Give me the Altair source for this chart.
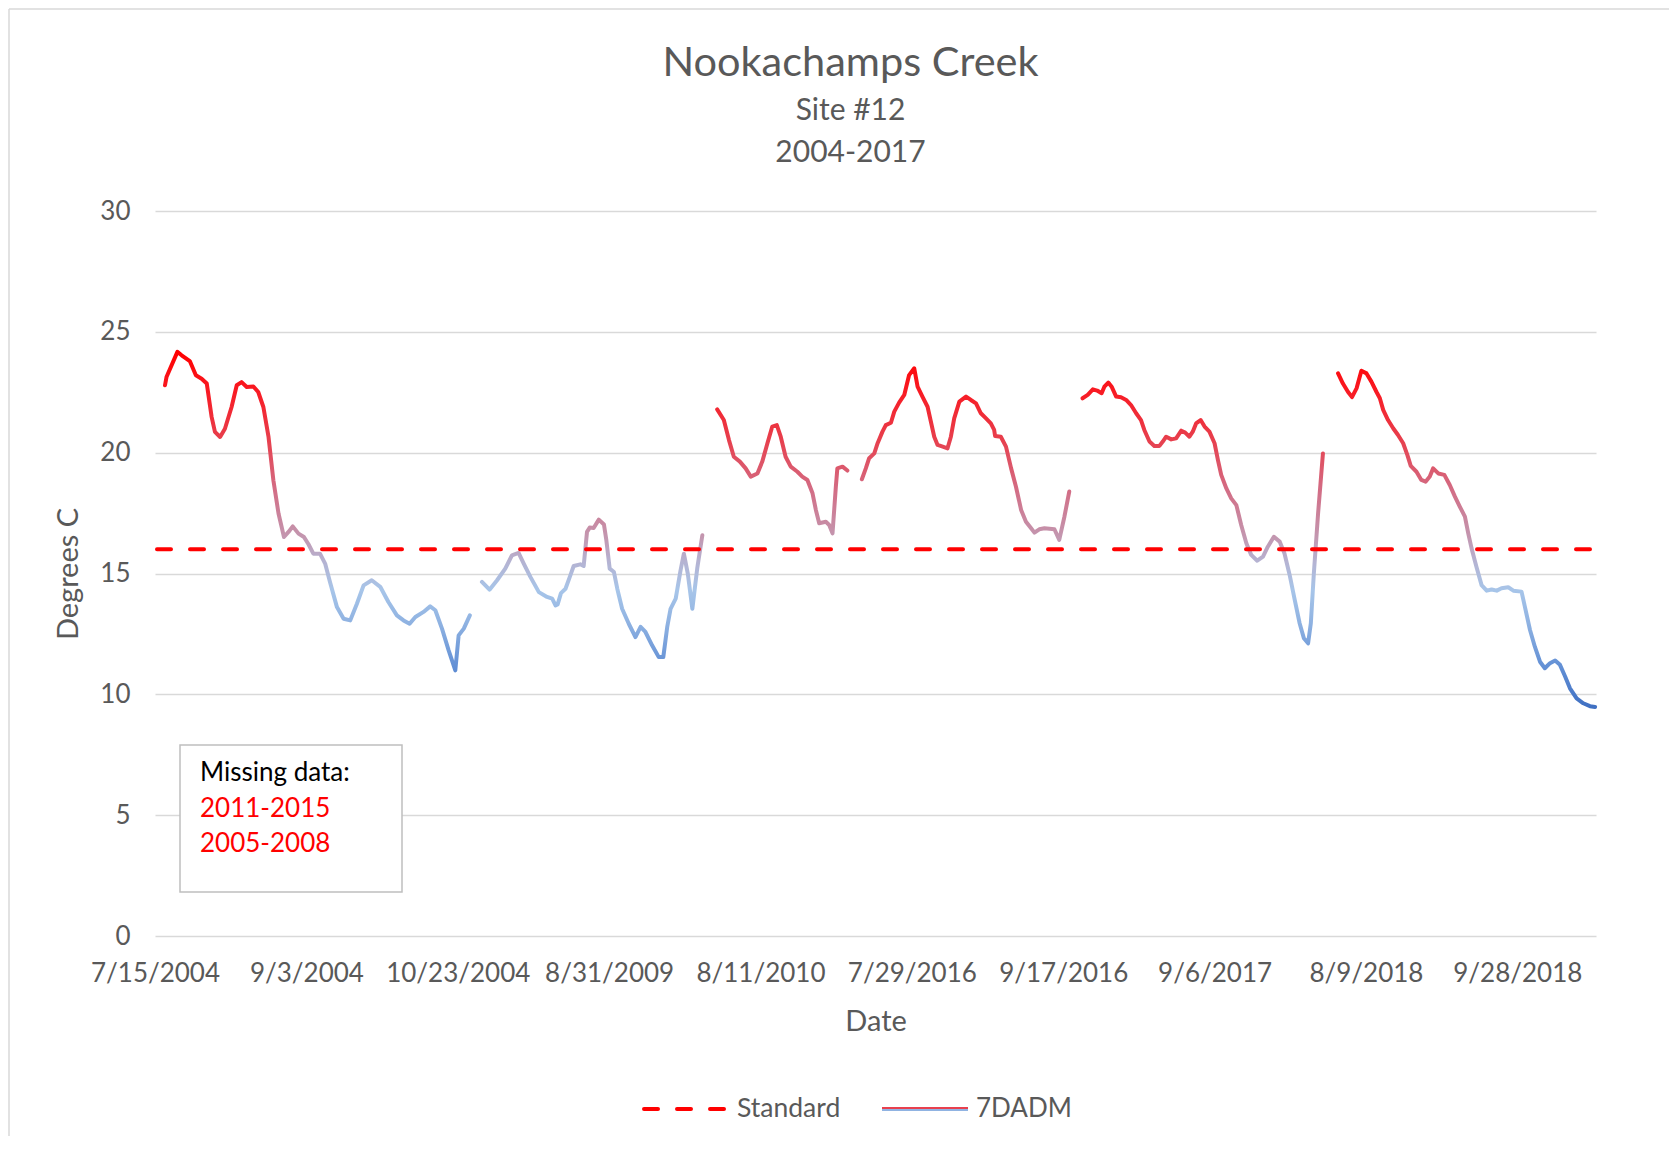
import altair as alt
import pandas as pd

# ---------------- data ----------------
TITLE = "Nookachamps Creek"
SUBTITLE = ["Site #12", "2004-2017"]
DATE_LABELS = ["7/15/2004", "9/3/2004", "10/23/2004", "8/31/2009", "8/11/2010",
               "7/29/2016", "9/17/2016", "9/6/2017", "8/9/2018", "9/28/2018"]
LABEL_STEP = 50
N_CATEGORIES = 477
STANDARD = 16
NOTE_LINES = ["Missing data:", "2011-2015", "2005-2008"]

# (category index, 7DADM degrees C) vertices of each recorded stretch
SEG_1 = [(3.3, 22.79), (3.8, 23.13), (7.4, 24.17), (8.8, 24.03), (11.5, 23.79), (13.5, 23.2),
         (15.4, 23.06), (17.1, 22.86), (18.7, 21.48), (19.8, 20.86), (21.5, 20.65), (23.1, 20.99),
         (25.3, 21.89), (27.0, 22.79), (28.6, 22.92), (30.3, 22.72), (32.5, 22.74), (34.1, 22.51),
         (35.8, 21.89), (37.5, 20.65), (39.1, 18.86), (40.8, 17.48), (42.6, 16.51), (44.1, 16.72),
         (45.5, 16.95), (47.4, 16.65), (49.2, 16.51), (50.7, 16.21), (52.3, 15.82), (54.5, 15.82),
         (56.2, 15.41), (57.8, 14.65), (60.1, 13.61), (62.3, 13.13), (64.5, 13.06), (66.7, 13.75),
         (68.9, 14.51), (71.6, 14.72), (74.4, 14.45), (77.1, 13.82), (79.9, 13.27), (82.1, 13.06),
         (84.1, 12.92), (86.0, 13.2), (88.7, 13.41), (90.9, 13.64), (92.6, 13.48), (94.8, 12.72),
         (97.0, 11.82), (99.2, 10.99), (100.3, 12.44), (102.0, 12.72), (104.0, 13.27)]
SEG_2 = [(108.0, 14.65), (110.5, 14.33), (113.0, 14.72), (115.7, 15.2), (117.9, 15.75), (120.1, 15.85),
         (121.8, 15.41), (124.0, 14.86), (126.8, 14.23), (129.5, 14.03), (131.2, 13.96), (132.3, 13.68),
         (133.0, 13.72), (134.1, 14.19), (135.6, 14.37), (137.2, 14.92), (138.3, 15.31), (140.5, 15.38),
         (141.6, 15.31), (142.7, 16.72), (143.6, 16.9), (144.9, 16.88), (146.6, 17.23), (148.3, 17.03),
         (149.1, 16.37), (150.2, 15.2), (151.6, 15.06), (152.7, 14.37), (154.3, 13.54), (156.5, 12.92),
         (158.7, 12.37), (160.4, 12.79), (162.0, 12.58), (164.2, 12.03), (166.4, 11.54), (167.9, 11.54),
         (169.2, 12.79), (170.3, 13.54), (172.0, 13.96), (173.6, 15.13), (174.7, 15.82), (176.0, 14.99),
         (177.5, 13.54), (179.1, 15.2), (180.8, 16.58)]
SEG_3 = [(185.7, 21.79), (187.9, 21.35), (189.6, 20.52), (191.2, 19.83), (193.2, 19.63), (195.1, 19.35),
         (196.8, 19.01), (199.0, 19.14), (200.6, 19.63), (202.3, 20.39), (203.9, 21.08), (205.4, 21.14),
         (206.7, 20.66), (208.3, 19.83), (210.0, 19.42), (212.2, 19.21), (213.8, 19.01), (215.5, 18.87),
         (217.2, 18.32), (218.3, 17.63), (219.4, 17.08), (221.6, 17.14), (222.7, 17.01), (223.8, 16.66),
         (224.9, 18.59), (225.4, 19.35), (227.1, 19.42), (228.7, 19.26)]
SEG_4 = [(233.5, 18.9), (234.8, 19.35), (235.9, 19.77), (237.6, 19.97), (238.7, 20.39), (240.3, 20.87),
         (241.4, 21.14), (243.1, 21.24), (244.2, 21.7), (245.8, 22.07), (247.5, 22.39), (249.1, 23.21),
         (250.8, 23.49), (251.9, 22.73), (253.5, 22.32), (255.2, 21.9), (256.3, 21.28), (257.4, 20.66),
         (258.5, 20.32), (260.2, 20.25), (261.8, 20.18), (262.9, 20.66), (264.0, 21.42), (265.7, 22.11),
         (267.9, 22.32), (269.5, 22.18), (271.2, 22.04), (272.8, 21.63), (274.5, 21.42), (276.1, 21.21),
         (277.2, 20.94), (277.5, 20.69), (279.4, 20.66), (281.1, 20.25), (282.8, 19.35), (284.4, 18.59),
         (286.1, 17.63), (287.7, 17.14), (289.4, 16.87), (290.5, 16.69), (292.1, 16.83), (293.8, 16.87),
         (297.1, 16.83), (298.7, 16.39), (300.4, 17.35), (302.0, 18.39)]
SEG_5 = [(306.4, 22.25), (308.1, 22.39), (309.8, 22.62), (311.2, 22.57), (312.7, 22.46), (313.6, 22.73),
         (314.9, 22.9), (316.0, 22.73), (317.5, 22.32), (319.1, 22.29), (320.8, 22.18), (322.4, 21.97),
         (324.1, 21.63), (325.7, 21.35), (326.8, 20.94), (328.5, 20.46), (330.1, 20.28), (331.8, 20.28),
         (332.9, 20.46), (334.0, 20.66), (335.7, 20.55), (337.3, 20.59), (339.0, 20.91), (340.3, 20.83),
         (341.7, 20.66), (342.8, 20.87), (343.9, 21.21), (345.4, 21.35), (346.7, 21.08), (348.3, 20.87),
         (350.0, 20.39), (351.1, 19.7), (352.2, 19.08), (353.9, 18.52), (355.5, 18.11), (357.2, 17.83),
         (358.8, 17.01), (360.5, 16.25), (362.1, 15.77), (364.1, 15.53), (366.0, 15.7), (367.6, 16.11),
         (369.6, 16.52), (371.5, 16.32), (373.1, 15.83), (374.8, 14.94), (376.5, 13.9), (378.1, 12.94),
         (379.5, 12.32), (380.9, 12.11), (381.8, 12.94), (382.8, 15.01), (384.2, 17.49), (385.8, 19.97)]
SEG_6 = [(390.8, 23.28), (392.4, 22.86), (394.1, 22.51), (395.4, 22.3), (396.9, 22.66), (398.5, 23.39),
         (400.2, 23.28), (401.8, 22.94), (403.5, 22.51), (404.6, 22.25), (405.7, 21.77), (407.3, 21.35),
         (409.0, 21.01), (410.6, 20.73), (412.3, 20.39), (413.7, 19.9), (414.8, 19.45), (416.7, 19.21),
         (418.3, 18.87), (419.7, 18.8), (421.1, 19.01), (422.2, 19.35), (423.9, 19.14), (425.9, 19.08),
         (427.7, 18.66), (429.4, 18.18), (431.0, 17.77), (432.7, 17.35), (433.8, 16.66), (434.9, 16.04),
         (436.5, 15.28), (438.2, 14.52), (439.9, 14.29), (441.5, 14.34), (443.2, 14.29), (444.8, 14.39),
         (447.0, 14.43), (448.7, 14.29), (451.4, 14.25), (452.5, 13.63), (454.2, 12.66), (455.8, 11.97),
         (457.5, 11.35), (459.1, 11.08), (460.8, 11.29), (462.5, 11.4), (464.1, 11.22), (465.8, 10.74),
         (467.4, 10.25), (469.6, 9.83), (471.8, 9.63), (474.0, 9.51), (475.7, 9.48)]
SEGMENTS = [SEG_1, SEG_2, SEG_3, SEG_4, SEG_5, SEG_6]

# ---------------- styles ----------------
FONT = "Lato"
GREY = "#595959"
GRID = "#D9D9D9"
GRAD_VALUES = [24.2, 22.5, 20.5, 18.5, 16.5, 15.5, 14.3, 13.0, 11.0, 9.4]
GRAD_COLORS = ["#FF0000", "#F81B24", "#E7404E", "#D36C84", "#C397B0", "#B5B3D2",
               "#A7C5E9", "#90B3E2", "#5F8DD4", "#4070C2"]

rows = []
for k, seg in enumerate(SEGMENTS):
    for i, v in seg:
        rows.append({"cat": i, "temp": v})
    if k < len(SEGMENTS) - 1:
        gap = (seg[-1][0] + SEGMENTS[k + 1][0][0]) / 2
        rows.append({"cat": gap, "temp": None})
df = pd.DataFrame(rows)

vals = [v for s in SEGMENTS for _, v in s]
vmax, vmin = max(vals), min(vals)
stops = []
for v, c in zip(GRAD_VALUES, GRAD_COLORS):
    off = min(1.0, max(0.0, (vmax - v) / (vmax - vmin)))
    stops.append(alt.GradientStop(color=c, offset=off))

W, H = 1441, 725
FRAME_TOP = -202
x_scale = alt.Scale(domain=[0, N_CATEGORIES - 1], nice=False, zero=False)
y_scale = alt.Scale(domain=[0, 30], nice=False, zero=False)

label_expr = "[" + ",".join("'%s'" % d for d in DATE_LABELS) + "][round(datum.value/%d)]" % LABEL_STEP

x_axis = alt.Axis(values=[i * LABEL_STEP for i in range(len(DATE_LABELS))], labelExpr=label_expr,
                  title="Date", domain=False, ticks=False, grid=False, labelFont=FONT,
                  labelFontSize=26, labelColor=GREY, labelPadding=24, labelOverlap=False,
                  labelFlush=False, titleFont=FONT, titleFontSize=29, titleColor=GREY,
                  titleFontWeight="normal", titleX=W / 2, titleY=85, titleBaseline="middle",
                  titleAlign="center")
y_axis = alt.Axis(values=[0, 5, 10, 15, 20, 25, 30], title="Degrees C", domain=False, ticks=False,
                  grid=True, gridColor=GRID, gridWidth=1.6, labelFont=FONT, labelFontSize=26,
                  labelColor=GREY, labelPadding=25, titleFont=FONT, titleFontSize=29,
                  titleColor=GREY, titleFontWeight="normal", titleAngle=270, titleX=-87,
                  titleY=H / 2, titleAlign="center", titleBaseline="middle")

base = alt.Chart(df)

line = base.mark_line(
    strokeWidth=4, strokeJoin="round", strokeCap="round",
    invalid="break-paths-show-domains",
    color=alt.Gradient(gradient="linear", stops=stops, x1=0, x2=0, y1=0, y2=1),
).encode(
    x=alt.X("cat:Q", scale=x_scale, axis=x_axis),
    y=alt.Y("temp:Q", scale=y_scale, axis=y_axis),
)

std = alt.Chart(pd.DataFrame({"std": [STANDARD]})).mark_rule(
    color="#FF0000", strokeWidth=4, strokeDash=[14, 19], strokeCap="round"
).encode(y=alt.Y("std:Q", scale=y_scale), x=alt.value(2), x2=alt.value(W))

layers = [line, std]

# note box
box = alt.Chart(pd.DataFrame({"a": [0]})).mark_rect(
    fill="white", stroke="#BFBFBF", strokeWidth=1.5
).encode(x=alt.value(25), x2=alt.value(247), y=alt.value(534), y2=alt.value(681))
layers.append(box)
note_colors = ["#000000", "#FF0000", "#FF0000"]
note_y = [562, 597.5, 633]
for t, c, yy in zip(NOTE_LINES, note_colors, note_y):
    layers.append(
        alt.Chart(pd.DataFrame({"t": [t]})).mark_text(
            align="left", baseline="middle", font=FONT, fontSize=26, color=c
        ).encode(text="t:N", x=alt.value(45), y=alt.value(yy))
    )

# legend
LEG_Y = 898
layers.append(alt.Chart(pd.DataFrame({"a": [0]})).mark_rule(
    color="#FF0000", strokeWidth=4, strokeDash=[14, 19], strokeCap="round"
).encode(x=alt.value(489), x2=alt.value(572), y=alt.value(LEG_Y)))
layers.append(alt.Chart(pd.DataFrame({"t": ["Standard"]})).mark_text(
    align="left", baseline="middle", font=FONT, fontSize=26.5, color=GREY
).encode(text="t:N", x=alt.value(582), y=alt.value(LEG_Y)))
layers.append(alt.Chart(pd.DataFrame({"a": [0]})).mark_rule(
    color="#E8404E", strokeWidth=2
).encode(x=alt.value(727), x2=alt.value(813), y=alt.value(LEG_Y - 1)))
layers.append(alt.Chart(pd.DataFrame({"a": [0]})).mark_rule(
    color="#90B3E2", strokeWidth=2
).encode(x=alt.value(727), x2=alt.value(813), y=alt.value(LEG_Y + 1)))
layers.append(alt.Chart(pd.DataFrame({"t": ["7DADM"]})).mark_text(
    align="left", baseline="middle", font=FONT, fontSize=26, color=GREY
).encode(text="t:N", x=alt.value(821), y=alt.value(LEG_Y)))

# chart-area frame (left and top edges)
layers.append(alt.Chart(pd.DataFrame({"a": [0]})).mark_rule(color=GRID, strokeWidth=1.5).encode(
    x=alt.value(-146), y=alt.value(FRAME_TOP), y2=alt.value(925)))
layers.append(alt.Chart(pd.DataFrame({"a": [0]})).mark_rule(color=GRID, strokeWidth=1.5).encode(
    x=alt.value(-146), x2=alt.value(1514), y=alt.value(FRAME_TOP)))

# title sits 44px above the plot; its offset is measured from the frame's top edge
TITLE_GAP = 44
title_offset = TITLE_GAP + FRAME_TOP - 1.5

chart = alt.layer(*layers).properties(
    width=W, height=H,
    title=alt.Title(TITLE, subtitle=SUBTITLE, font=FONT, fontSize=41.5, color=GREY,
                    fontWeight="normal", subtitleFont=FONT, subtitleFontSize=30,
                    subtitleColor=GREY, subtitleLineHeight=42, subtitlePadding=11,
                    anchor="middle", frame="group", dx=-25, offset=title_offset),
    padding={"left": 147, "top": 203, "right": 73, "bottom": 208},
    autosize=alt.AutoSizeParams(type="none"),
    background="white",
).configure_view(stroke="transparent")

chart.save("out.html", embed_options={"renderer": "svg", "actions": False})
